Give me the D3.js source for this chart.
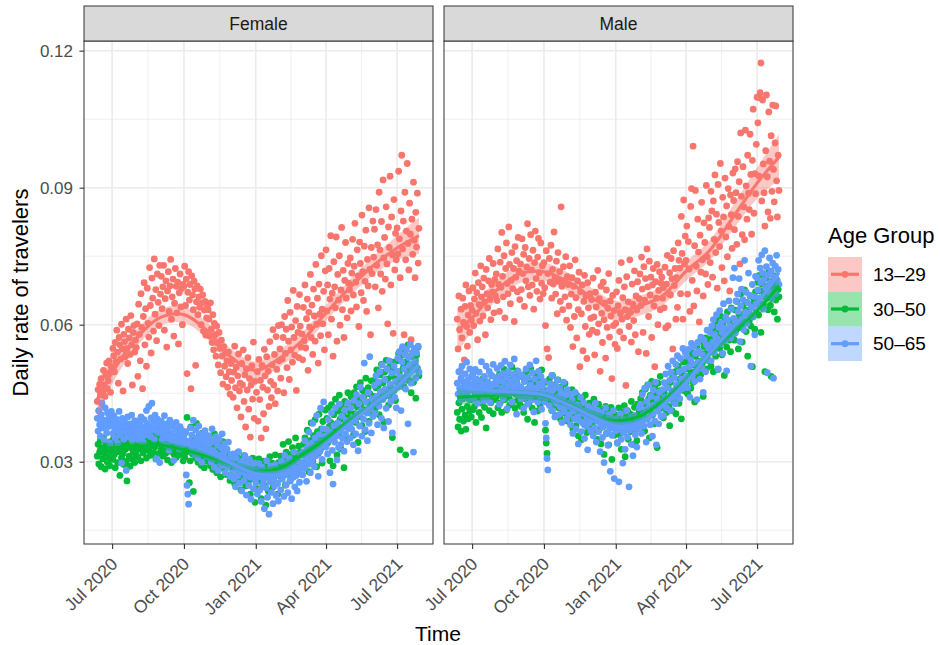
<!DOCTYPE html>
<html>
<head>
<meta charset="utf-8">
<script src="https://cdn.jsdelivr.net/npm/d3@7"></script>
<style>
  body { margin: 0; background: #fff; }
  text { font-family: "Liberation Sans", Arial, Helvetica, sans-serif; }
</style>
</head>
<body>
<svg width="940" height="645"></svg>
<script>
// ---- data ----
var panelNames = ["Female", "Male"];
var ageGroups = ["13–29", "30–50", "50–65"];
var tickDates = ["2020-07-01", "2020-10-01", "2021-01-01", "2021-04-01", "2021-07-01"];
var yTicks = [0.03, 0.06, 0.09, 0.12];

// first day of each block of daily values
var monthStarts = ["2020-06-12","2020-07-01","2020-08-01","2020-09-01","2020-10-01","2020-11-01","2020-12-01",
                   "2021-01-01","2021-02-01","2021-03-01","2021-04-01","2021-05-01","2021-06-01","2021-07-01"];

// daily rate of travelers, per 10,000 (one inner list per month)
var femaleYoung = [
  [432,458,411,469,446,482,425,451,500,468,443,489,516,460,477,521,495,452,508],
  [505,548,532,497,561,519,588,540,472,572,556,525,601,547,455,579,563,530,612,548,515,590,571,535,620,556,468,583,598,540,566],
  [550,602,487,645,579,521,668,594,460,618,692,556,635,509,680,603,573,725,642,538,702,658,586,744,623,677,565,711,649,598,730],
  [667,706,635,683,730,588,657,696,551,674,716,629,685,743,612,661,700,575,647,723,684,626,693,558,670,711,639,679,600,688],
  [684,728,642,700,493,671,716,654,688,460,707,665,633,696,678,511,650,685,622,661,638,678,600,647,665,586,632,651,577,615,638],
  [633,612,575,648,590,561,622,545,603,578,531,597,560,512,583,548,495,566,531,470,552,509,538,486,521,463,540,497,448,515],
  [478,522,441,496,553,462,507,418,488,536,455,472,398,515,468,545,432,490,376,503,457,528,415,482,354,468,510,437,562,395,476],
  [290,452,497,389,524,436,478,352,511,463,405,546,488,372,530,457,498,421,563,476,440,512,589,468,535,427,574,502,455,598,521],
  [547,483,600,525,572,451,618,537,590,506,653,564,480,627,545,595,518,675,572,533,609,456,640,583,528,666,597,551],
  [580,523,638,565,687,549,613,656,500,627,595,710,572,643,535,678,619,564,732,601,658,516,689,623,576,751,634,602,673,545,718],
  [764,630,687,578,723,656,795,612,669,531,738,683,637,792,564,710,654,751,599,676,813,633,719,572,697,780,658,615,734,691],
  [677,746,630,713,787,665,728,822,693,639,764,707,596,781,734,670,840,716,653,772,695,807,629,743,685,856,721,578,769,712,827],
  [748,809,683,852,730,775,637,890,764,711,826,673,917,746,791,700,858,733,602,814,769,925,687,836,753,581,874,720,800,742],
  [812,755,936,788,703,849,971,766,827,578,890,742,805,953,778,720,866,798,567,831,754,912,785,703,846,770,888,735,811]
];
var femaleMid = [
  [312,338,295,321,347,289,330,306,352,318,284,341,325,299,336,310,291,344,322],
  [328,305,351,316,287,339,362,298,322,346,270,333,309,355,318,294,340,327,301,258,336,349,312,290,331,357,305,323,343,298,317],
  [334,352,311,366,327,345,302,358,338,319,373,331,349,308,362,341,325,355,314,368,336,347,320,359,333,306,351,340,371,318,344],
  [339,326,358,312,347,331,365,319,342,304,353,336,323,361,298,344,330,317,356,338,309,349,327,372,315,340,321,357,333,302],
  [337,310,364,321,397,343,328,254,302,376,339,317,235,350,331,308,384,323,299,356,314,340,292,329,363,306,287,335,318,348,301],
  [328,306,347,291,319,335,283,312,361,298,324,276,340,309,290,331,267,318,303,344,285,312,296,272,327,301,288,315,259,306],
  [297,271,310,285,252,302,289,318,264,294,277,306,238,287,299,269,313,281,247,295,274,303,259,288,229,297,276,308,263,284,211],
  [268,295,241,282,306,257,274,219,289,263,301,248,278,205,292,270,236,284,311,259,276,297,244,288,266,315,253,281,229,298,272],
  [287,312,264,296,338,275,305,249,321,290,273,344,301,258,316,283,331,296,268,309,352,287,317,276,334,299,321,288],
  [315,297,338,286,352,321,304,369,329,278,346,312,385,334,301,357,326,392,341,289,366,318,404,349,327,372,297,388,358,336,413],
  [362,395,341,418,377,302,386,425,354,291,403,368,437,382,315,411,359,446,393,328,420,376,404,287,432,388,349,415,451,397],
  [411,374,442,396,427,358,451,405,386,464,420,342,438,399,473,427,379,456,414,445,366,483,431,407,462,388,449,423,477,436,402],
  [443,478,416,462,501,434,467,403,490,451,513,438,473,387,496,459,522,445,481,424,507,466,442,487,353,518,456,498,434,482],
  [521,474,537,497,326,532,483,548,506,463,543,315,519,491,556,478,529,502,451,537,513,474,546,522,439,533,504,551,488]
];
var femaleOld = [
  [395,367,412,381,356,403,429,374,391,348,418,385,363,407,377,396,341,384,410],
  [388,362,401,375,352,393,369,340,384,410,358,376,297,395,366,349,387,372,281,361,398,377,354,383,365,402,346,379,359,390,368],
  [372,356,389,347,381,364,398,353,377,342,392,369,359,412,384,366,421,376,355,396,428,371,387,349,402,379,306,393,365,385,298],
  [369,389,348,376,358,401,366,337,383,352,374,325,391,361,344,379,356,303,372,348,386,339,365,357,328,377,351,369,336,358],
  [352,338,366,271,248,229,207,345,374,331,358,322,391,343,317,369,336,352,308,378,327,361,345,299,356,333,318,368,340,312,347],
  [333,357,310,341,299,372,325,346,288,320,355,307,336,281,349,314,296,330,361,292,318,339,276,305,327,289,343,301,268,315],
  [303,276,317,262,291,245,308,284,269,322,253,296,278,236,301,287,259,313,272,227,294,281,248,305,266,218,289,274,241,297,263],
  [254,281,229,267,296,238,274,213,288,249,261,197,279,243,302,222,268,185,256,290,233,275,208,262,247,293,226,271,252,214,283],
  [276,238,301,262,285,224,314,271,249,296,232,282,307,259,275,219,293,266,321,245,287,270,236,302,278,255,316,289],
  [298,271,322,285,346,309,257,331,294,365,318,276,340,302,384,327,289,352,313,401,336,268,359,322,417,344,305,372,431,338,356],
  [332,371,317,392,348,276,364,407,325,251,379,343,418,356,304,385,331,426,369,338,400,352,377,323,413,361,390,344,428,373],
  [383,352,418,371,396,337,434,389,361,447,404,324,427,378,463,412,356,442,393,516,370,431,407,346,452,384,530,416,363,438,399],
  [431,467,406,488,443,381,474,422,497,454,395,512,436,374,480,459,417,503,446,388,521,470,432,494,363,457,510,441,476,418],
  [498,527,464,541,486,412,519,552,477,503,534,459,546,491,383,528,511,557,472,536,502,321,548,519,483,539,505,553,496]
];
var maleYoung = [
  [612,547,663,589,498,634,571,658,605,523,640,687,596,553,621,674,583,642,609],
  [632,681,598,656,713,625,670,567,692,644,608,729,661,683,619,702,650,578,721,668,637,696,745,655,611,688,672,734,626,699,663],
  [711,653,766,688,629,737,682,802,706,661,751,615,723,779,690,668,814,732,646,697,758,679,723,607,771,704,740,672,791,717,655],
  [733,677,788,712,754,640,769,696,726,821,683,745,664,797,720,687,763,634,736,805,701,673,748,789,714,656,779,691,729,668],
  [736,681,598,762,547,712,528,745,693,774,658,721,689,803,702,667,739,624,758,695,716,651,858,684,633,727,696,661,749,610,705],
  [688,641,729,594,667,703,552,684,618,742,659,571,696,633,715,508,672,624,687,543,651,708,596,663,526,692,637,579,668,614],
  [655,588,702,617,534,671,639,583,719,602,657,498,684,625,561,693,611,648,527,676,594,636,712,573,652,619,482,664,598,631,557],
  [603,672,548,641,697,585,624,736,612,659,571,683,633,467,705,618,650,596,742,627,562,689,645,609,718,578,663,632,694,541,657],
  [711,642,748,678,583,727,654,701,537,766,683,618,739,665,704,572,687,723,641,508,694,658,732,600,675,716,633,691],
  [704,658,681,637,726,593,689,752,598,668,714,665,745,701,547,762,686,723,612,703,638,779,741,724,668,837,756,612,873,733,794],
  [741,816,667,782,722,629,859,898,697,991,641,773,894,728,674,831,759,606,796,715,868,742,663,823,780,711,905,749,688,834],
  [813,736,892,849,704,871,787,928,758,842,680,907,824,771,953,805,725,879,836,696,921,792,860,749,898,815,674,884,841,767,932],
  [872,808,941,889,776,957,837,913,733,1020,881,797,946,858,786,1026,904,831,971,888,852,1017,929,798,960,1072,844,931,887,995],
  [1098,1042,926,1097,1108,1173,871,1092,952,889,816,981,1103,924,847,1066,958,833,1014,892,1081,940,869,998,1079,915,836,971,894]
];
var maleMid = [
  [408,376,429,393,452,367,415,438,389,461,402,371,447,421,394,458,411,435,398],
  [437,414,468,421,449,386,456,432,471,408,443,465,397,428,482,451,419,459,374,437,474,446,412,463,429,488,441,405,457,436,469],
  [442,477,418,456,491,429,465,408,483,447,502,436,471,413,458,495,441,424,479,452,507,431,463,486,417,448,474,499,435,461,426],
  [463,421,489,447,408,476,438,497,452,393,481,429,466,504,443,417,472,455,386,491,437,462,411,479,448,424,468,501,433,457],
  [472,445,369,341,318,453,428,481,437,462,412,489,446,423,468,401,455,437,479,418,446,394,463,431,408,452,426,471,405,438,389],
  [413,447,388,426,395,458,372,419,436,401,379,445,410,357,429,392,417,348,438,403,421,381,446,397,364,412,387,428,401,373],
  [418,384,403,437,366,395,412,349,389,426,371,398,339,414,382,405,316,393,421,362,387,408,337,396,374,419,305,385,402,358,391],
  [376,402,341,393,418,359,387,327,409,381,364,423,311,397,378,412,349,386,405,366,432,392,338,401,419,371,395,346,426,388,409],
  [412,438,386,451,403,427,367,459,421,394,468,437,352,445,418,476,402,431,383,463,426,449,331,472,441,415,487,456],
  [418,447,396,452,429,471,408,437,463,421,379,474,445,412,486,453,431,497,405,466,442,509,428,481,459,394,492,471,518,455,487],
  [472,503,449,519,488,527,461,496,538,474,512,431,531,497,553,484,520,508,564,491,537,516,443,552,526,571,503,539,562,521],
  [541,568,509,583,552,497,594,560,531,608,572,502,587,548,619,576,534,601,563,489,612,583,551,628,590,566,609,541,637,595,578],
  [597,566,632,588,651,609,547,623,594,667,615,562,641,603,676,628,585,649,531,632,608,663,597,642,508,619,655,590,672,627],
  [652,693,621,708,674,583,689,712,645,669,497,701,658,684,633,716,671,642,487,695,663,681,628,707,654,690,612,677,661]
];
var maleOld = [
  [472,448,497,461,435,483,509,456,474,441,492,466,518,452,479,437,503,468,486],
  [458,491,437,473,502,449,481,428,464,496,453,477,519,445,468,433,487,461,509,442,475,456,498,430,466,489,451,513,471,447,484],
  [469,504,452,487,426,478,511,461,493,438,474,520,457,483,416,497,466,449,512,477,431,491,463,525,455,482,404,470,498,446,486],
  [463,438,489,452,417,476,441,503,459,426,484,447,512,468,435,495,457,409,481,449,521,462,431,498,471,443,487,415,466,452],
  [476,431,384,352,307,282,458,423,471,446,489,412,457,435,398,466,428,479,442,403,461,419,452,386,437,474,409,445,421,393,458],
  [427,403,448,381,419,436,362,411,394,452,372,425,398,339,417,389,441,366,406,384,429,351,412,378,397,326,421,385,403,368],
  [392,416,357,401,374,428,343,389,411,366,395,322,381,407,353,376,298,392,418,361,384,336,403,372,279,396,358,387,412,263,379],
  [368,394,341,382,256,371,405,349,386,297,363,392,327,378,412,354,384,245,369,397,338,381,313,374,401,359,386,332,395,372,418],
  [391,426,362,447,403,378,461,414,343,432,396,468,419,381,443,405,356,457,424,389,474,337,438,411,383,452,425,399],
  [429,458,401,473,441,492,418,462,509,437,478,412,496,455,521,441,484,427,513,469,532,452,497,438,526,481,459,548,502,473,539],
  [487,531,462,546,508,441,523,559,489,514,552,476,537,499,436,561,518,542,481,573,506,534,452,567,529,497,556,588,523,549],
  [548,583,521,597,562,611,539,578,553,622,569,503,594,631,558,604,583,537,646,592,565,617,499,609,578,652,597,571,634,588,703],
  [614,724,581,652,606,667,629,701,563,641,678,612,655,589,741,627,671,603,648,713,622,664,509,639,688,617,662,578,706,645],
  [703,676,741,658,724,692,753,713,634,698,762,681,727,495,709,672,746,691,718,657,735,483,704,729,668,752,697,721,688]
];

// smoothed trend and its half band width, per 10,000
var fitDates = ["2020-06-12","2020-07-01","2020-08-01","2020-09-01","2020-10-01","2020-11-01","2020-12-01","2021-01-01",
                "2021-02-01","2021-03-01","2021-04-01","2021-05-01","2021-06-01","2021-07-01","2021-07-29"];
var femaleYoungFit = [437,495,570,616,622,585,528,500,527,564,626,680,730,768,795];
var femaleMidFit   = [326,330,334,336,326,311,294,280,286,315,350,389,427,465,510];
var femaleOldFit   = [386,381,372,363,343,322,296,274,272,291,339,383,426,465,512];
var maleYoungFit   = [588,615,675,712,716,694,660,630,642,662,717,762,837,910,967];
var maleMidFit     = [441,443,446,447,443,428,403,390,400,431,478,535,586,632,685];
var maleOldFit     = [465,460,455,452,446,425,400,378,382,421,473,537,596,647,714];
var femaleYoungSe  = [42,26,19,18,18,18,18,19,19,18,17,18,20,27,40];
var femaleOtherSe  = [18,11,9,9,9,9,9,9,9,9,9,9,10,13,20];
var maleYoungSe    = [50,30,22,20,20,20,21,22,22,21,21,22,27,34,50];
var maleOtherSe    = [20,12,10,10,10,10,10,10,10,10,10,10,11,14,22];

// ---- chart ----
var svg = d3.select("svg"),
    panelW = 349, panelH = 503, panelTop = 41,
    panelLeft = [84, 444];

svg.append("rect").attr("width", 940).attr("height", 645).attr("fill", "#fff");

var parseDay = d3.utcParse("%Y-%m-%d");
var colour = d3.scaleOrdinal().domain(ageGroups).range(["#F8766D", "#00BA38", "#619CFF"]);

var x = d3.scaleUtc().domain([parseDay("2020-05-26"), parseDay("2021-08-16")]).range([0, panelW]),
    y = d3.scaleLinear().domain([0.01198, 0.12212]).range([panelH, 0]);

function daily(months) {
  var out = [];
  months.forEach(function(vals, i) {
    var start = parseDay(monthStarts[i]);
    vals.forEach(function(v, j) { out.push({date: d3.utcDay.offset(start, j), rate: v / 10000}); });
  });
  return out;
}
function fit(vals, se) {
  return vals.map(function(v, i) { return {date: parseDay(fitDates[i]), rate: v / 10000, se: se[i] / 10000}; });
}

var panels = [
  [{points: daily(femaleYoung), fit: fit(femaleYoungFit, femaleYoungSe)},
   {points: daily(femaleMid),   fit: fit(femaleMidFit, femaleOtherSe)},
   {points: daily(femaleOld),   fit: fit(femaleOldFit, femaleOtherSe)}],
  [{points: daily(maleYoung), fit: fit(maleYoungFit, maleYoungSe)},
   {points: daily(maleMid),   fit: fit(maleMidFit, maleOtherSe)},
   {points: daily(maleOld),   fit: fit(maleOldFit, maleOtherSe)}]
];

var ticks = tickDates.map(parseDay);
var minorX = [];
for (var i = -1; i < ticks.length; i++) {
  var a = i < 0 ? d3.utcMonth.offset(ticks[0], -3) : ticks[i],
      b = i + 1 < ticks.length ? ticks[i + 1] : d3.utcMonth.offset(ticks[i], 3);
  var m = new Date((+a + +b) / 2);
  if (m >= x.domain()[0] && m <= x.domain()[1]) minorX.push(m);
}
var minorY = [0.015, 0.045, 0.075, 0.105];

var curve = d3.curveCatmullRom.alpha(0.5);
var line = d3.line().curve(curve)
    .x(function(d) { return x(d.date); })
    .y(function(d) { return y(d.rate); });
var band = d3.area().curve(curve)
    .x(function(d) { return x(d.date); })
    .y0(function(d) { return y(d.rate - d.se); })
    .y1(function(d) { return y(d.rate + d.se); });

panels.forEach(function(series, p) {
  var g = svg.append("g").attr("transform", "translate(" + panelLeft[p] + "," + panelTop + ")");

  // strip
  svg.append("rect")
      .attr("x", panelLeft[p]).attr("y", 6).attr("width", panelW).attr("height", 35)
      .attr("fill", "#D9D9D9").attr("stroke", "#333").attr("stroke-width", 1);
  svg.append("text")
      .attr("x", panelLeft[p] + panelW / 2).attr("y", 30)
      .attr("text-anchor", "middle").attr("font-size", 17.5).attr("fill", "#1A1A1A")
      .text(panelNames[p]);

  // grid
  g.selectAll(".minx").data(minorX).enter().append("line")
      .attr("x1", x).attr("x2", x).attr("y1", 0).attr("y2", panelH)
      .attr("stroke", "#EBEBEB").attr("stroke-width", 0.8);
  g.selectAll(".miny").data(minorY).enter().append("line")
      .attr("x1", 0).attr("x2", panelW).attr("y1", y).attr("y2", y)
      .attr("stroke", "#EBEBEB").attr("stroke-width", 0.8);
  g.selectAll(".majx").data(ticks).enter().append("line")
      .attr("x1", x).attr("x2", x).attr("y1", 0).attr("y2", panelH)
      .attr("stroke", "#EBEBEB").attr("stroke-width", 1.6);
  g.selectAll(".majy").data(yTicks).enter().append("line")
      .attr("x1", 0).attr("x2", panelW).attr("y1", y).attr("y2", y)
      .attr("stroke", "#EBEBEB").attr("stroke-width", 1.6);

  // points
  series.forEach(function(s, k) {
    g.append("g").selectAll("circle").data(s.points).enter().append("circle")
        .attr("cx", function(d) { return x(d.date); })
        .attr("cy", function(d) { return y(d.rate); })
        .attr("r", 3.4)
        .attr("fill", colour(ageGroups[k]));
  });

  // smooth fits
  series.forEach(function(s, k) {
    g.append("path").attr("d", band(s.fit))
        .attr("fill", colour(ageGroups[k])).attr("fill-opacity", 0.4);
    g.append("path").attr("d", line(s.fit))
        .attr("fill", "none").attr("stroke", colour(ageGroups[k])).attr("stroke-width", 3.2);
  });

  g.append("rect").attr("width", panelW).attr("height", panelH)
      .attr("fill", "none").attr("stroke", "#333").attr("stroke-width", 1);

  // x axis
  var xa = g.append("g").attr("transform", "translate(0," + panelH + ")")
      .call(d3.axisBottom(x).tickValues(ticks).tickFormat(d3.utcFormat("%b %Y")).tickSize(5));
  xa.select(".domain").remove();
  xa.selectAll("line").attr("stroke", "#333").attr("stroke-width", 1.1);
  xa.selectAll("text")
      .attr("x", 0).attr("y", 0).attr("dy", null)
      .attr("transform", "translate(6,21) rotate(-45)")
      .attr("text-anchor", "end")
      .attr("font-size", 17.5).attr("font-family", null)
      .attr("fill", "#4D4D4D");

  // y axis only on the first panel
  if (p === 0) {
    var ya = g.append("g")
        .call(d3.axisLeft(y).tickValues(yTicks).tickFormat(d3.format(".2f")).tickSize(4.5).tickPadding(6.5));
    ya.select(".domain").remove();
    ya.selectAll("line").attr("stroke", "#333").attr("stroke-width", 1.1);
    ya.selectAll("text").attr("font-size", 17).attr("font-family", null).attr("fill", "#4D4D4D");
  }
});

// axis titles
svg.append("text")
    .attr("x", 438).attr("y", 641)
    .attr("text-anchor", "middle").attr("font-size", 21).attr("fill", "#000")
    .text("Time");
svg.append("text")
    .attr("transform", "translate(28," + (panelTop + panelH / 2) + ") rotate(-90)")
    .attr("text-anchor", "middle").attr("font-size", 22).attr("fill", "#000")
    .text("Daily rate of travelers");

// legend
var legend = svg.append("g").attr("transform", "translate(828,0)");
legend.append("text").attr("x", 0).attr("y", 243)
    .attr("font-size", 22).attr("fill", "#000").text("Age Group");
ageGroups.forEach(function(a, k) {
  var top = 257 + k * 34.7;
  legend.append("rect").attr("x", 0).attr("y", top).attr("width", 34).attr("height", 34.7)
      .attr("fill", colour(a)).attr("fill-opacity", 0.4);
  legend.append("line").attr("x1", 3).attr("x2", 31).attr("y1", top + 17.3).attr("y2", top + 17.3)
      .attr("stroke", colour(a)).attr("stroke-width", 3.2);
  legend.append("circle").attr("cx", 17).attr("cy", top + 17.3).attr("r", 3.4).attr("fill", colour(a));
  legend.append("text").attr("x", 45).attr("y", top + 24)
      .attr("font-size", 19).attr("fill", "#000").text(a);
});
</script>
</body>
</html>
